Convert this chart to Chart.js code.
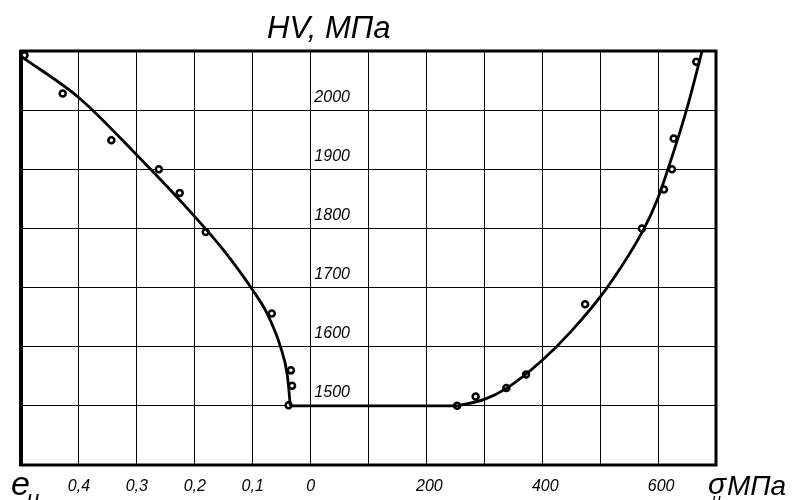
<!DOCTYPE html>
<html>
<head>
<meta charset="utf-8">
<script src="https://cdn.jsdelivr.net/npm/chart.js@4.4.1/dist/chart.umd.min.js"></script>
<style>
  html, body { margin: 0; padding: 0; background: #fff; }
</style>
</head>
<body>
<canvas id="myChart" width="795" height="500"></canvas>
<script>
// left branch: HV against strain intensity e_и (axis runs 0.5 -> 0)
var eLine = [0.5, 0.4, 0.3, 0.2, 0.15, 0.1, 0.075, 0.052, 0.040, 0.035]
var eLineHV = [2091, 2021, 1924, 1820, 1763, 1696, 1656, 1600, 1551, 1500]
var ePts = [0.494, 0.428, 0.344, 0.262, 0.226, 0.181, 0.067, 0.034, 0.032, 0.038]
var ePtsHV = [2093, 2028, 1949, 1900, 1860, 1794, 1656, 1560, 1534, 1501]

// right branch: HV against stress intensity σ_и, MPa
var sLine = [254, 300, 339, 400, 449, 512, 576, 600, 617, 649, 676]
var sLineHV = [1500, 1511, 1530, 1577, 1625, 1700, 1800, 1852, 1900, 2000, 2100]
var sPts = [253, 285, 338, 372, 474, 572, 610, 624, 627, 666]
var sPtsHV = [1500, 1516, 1530, 1553, 1672, 1800, 1866, 1900, 1952, 2082]

// flat part at HV = 1500
var flatE = [0.035, 0]
var flatS = [0, 254]
var flatHV = 1500

var eTicks = [0.4, 0.3, 0.2, 0.1, 0]
var sTicks = [200, 400, 600]
var hvTicks = [1500, 1600, 1700, 1800, 1900, 2000]

var fontFam = "'Liberation Sans', Arial, sans-serif"

function xy(xs, ys) {
  let out = []
  for (let i = 0; i < xs.length; i++) out.push({x: xs[i], y: Array.isArray(ys) ? ys[i] : ys})
  return out
}

const framePlugin = {
  id: 'frame',
  beforeDatasetsDraw(chart) {
    const a = chart.chartArea
    const c = chart.ctx
    c.save()
    c.strokeStyle = '#000'
    c.lineWidth = 3
    c.strokeRect(a.left, a.top, a.right - a.left, a.bottom - a.top)
    c.lineWidth = 4
    c.beginPath()
    c.moveTo(a.left, a.top - 1)
    c.lineTo(a.left, a.bottom + 1)
    c.stroke()
    c.restore()
  }
}

const labelsPlugin = {
  id: 'axisNames',
  afterDraw(chart) {
    const c = chart.ctx
    c.save()
    c.fillStyle = '#000'
    c.textAlign = 'left'
    c.textBaseline = 'alphabetic'
    c.font = 'italic 31px ' + fontFam
    c.fillText('HV, МПа', 267, 38)
    c.font = 'italic 34px ' + fontFam
    c.fillText('e', 11, 495)
    c.font = 'italic 22px ' + fontFam
    c.fillText('и', 27, 506)
    c.font = 'italic 30px ' + fontFam
    c.fillText('σ', 708, 494)
    c.font = 'italic 16px ' + fontFam
    c.fillText('и,', 712, 505)
    c.font = 'italic 28px ' + fontFam
    c.fillText('МПа', 727, 495)
    c.restore()
  }
}

var ctx = document.getElementById('myChart').getContext('2d')
var tickFont = {family: fontFam, size: 16, style: 'italic'}

var myChart = new Chart(ctx, {
  type: 'scatter',
  data: {
    datasets: [
      {data: xy(eLine, eLineHV), xAxisID: 'xE', yAxisID: 'y', showLine: true, cubicInterpolationMode: 'monotone',
        borderColor: '#000', borderWidth: 2.8, pointRadius: 0},
      {data: xy(flatE, flatHV), xAxisID: 'xE', yAxisID: 'y', showLine: true, tension: 0,
        borderColor: '#000', borderWidth: 2.8, pointRadius: 0},
      {data: xy(flatS, flatHV), xAxisID: 'xS', yAxisID: 'y', showLine: true, tension: 0,
        borderColor: '#000', borderWidth: 2.8, pointRadius: 0},
      {data: xy(sLine, sLineHV), xAxisID: 'xS', yAxisID: 'y', showLine: true, cubicInterpolationMode: 'monotone',
        borderColor: '#000', borderWidth: 2.8, pointRadius: 0},
      {data: xy(ePts, ePtsHV), xAxisID: 'xE', yAxisID: 'y', showLine: false,
        pointRadius: 3, borderWidth: 2.5, borderColor: '#000', backgroundColor: '#fff'},
      {data: xy(sPts, sPtsHV), xAxisID: 'xS', yAxisID: 'y', showLine: false,
        pointRadius: 3, borderWidth: 2.5, borderColor: '#000', backgroundColor: '#fff'}
    ]
  },
  options: {
    responsive: false,
    animation: false,
    layout: {padding: {left: 21, right: 79, top: 51, bottom: 35}},
    plugins: {legend: {display: false}, tooltip: {enabled: false}, title: {display: false}},
    scales: {
      xE: {
        type: 'linear', axis: 'x', position: {y: 1400}, reverse: true, min: -0.7, max: 0.5,
        grid: {color: '#000', lineWidth: 1, drawTicks: false},
        border: {display: false},
        ticks: {
          stepSize: 0.1, padding: 12, color: '#000', font: tickFont, maxRotation: 0, autoSkip: false,
          callback: function (v) {
            let r = Math.round(v * 10) / 10
            if (eTicks.indexOf(r) < 0) return ''
            return r === 0 ? '0' : r.toFixed(1).replace('.', ',')
          }
        }
      },
      xS: {
        type: 'linear', axis: 'x', position: {y: 1400}, min: -500, max: 700,
        grid: {display: false, drawTicks: false},
        border: {display: false},
        ticks: {
          stepSize: 100, padding: 12, labelOffset: 3, color: '#000', font: tickFont, maxRotation: 0, autoSkip: false,
          callback: function (v) { return sTicks.indexOf(v) < 0 ? '' : String(v) }
        }
      },
      y: {
        type: 'linear', axis: 'y', position: {xS: 68}, min: 1400, max: 2100,
        grid: {color: '#000', lineWidth: 1, drawTicks: false},
        border: {display: false},
        ticks: {
          stepSize: 100, padding: 0, labelOffset: -13, color: '#000', font: tickFont, autoSkip: false,
          callback: function (v) { return hvTicks.indexOf(v) < 0 ? '' : String(v) }
        }
      }
    }
  },
  plugins: [framePlugin, labelsPlugin]
})
</script>
</body>
</html>
